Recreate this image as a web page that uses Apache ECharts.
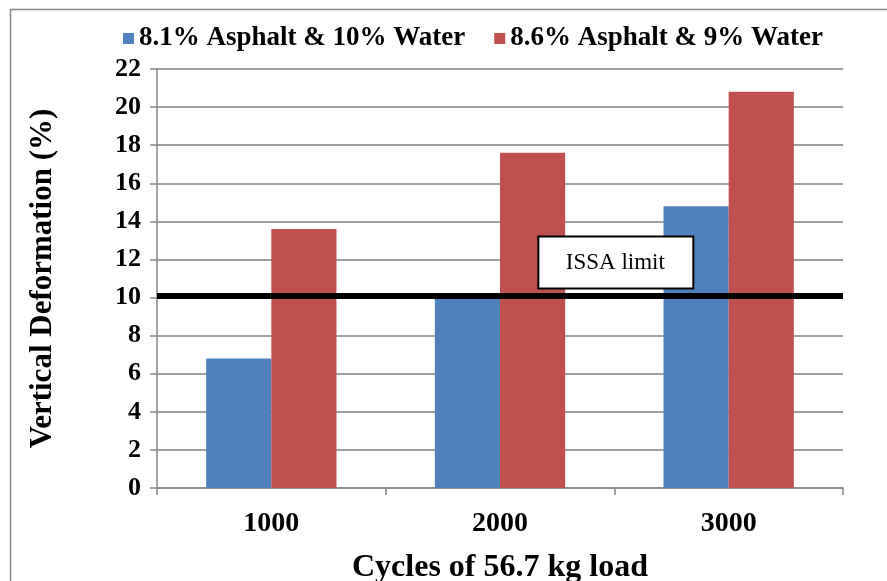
<!DOCTYPE html>
<html>
<head>
<meta charset="utf-8">
<script src="https://cdn.jsdelivr.net/npm/echarts@6/dist/echarts.min.js"></script>
<style>
  html, body { margin: 0; padding: 0; background: #fff; }
  #chart { width: 887px; height: 581px; }
</style>
</head>
<body>
<div id="chart"></div>
<script>
// Load cycles on the x axis
const cycles = ['1000', '2000', '3000'];
// Vertical deformation (%) for each mix
const mixA = [6.8, 10.0, 14.8];   // 8.1% asphalt & 10% water
const mixB = [13.6, 17.6, 20.8];  // 8.6% asphalt & 9% water
const seriesNames = ['8.1% Asphalt & 10% Water', '8.6% Asphalt & 9% Water'];
// Y axis scale
const yMin = 0, yMax = 22, yStep = 2;
// ISSA deformation limit and where its caption sits
const issaLimit = 10.1;
const issaCaption = 'ISSA limit';
const captionLevel = 12;

const serif = '"Liberation Serif", "DejaVu Serif", serif';
const chart = echarts.init(document.getElementById('chart'));

chart.setOption({
  animation: false,
  backgroundColor: '#fff',
  color: ['#4F81BD', '#C0504D'],
  legend: {
    top: 25,
    left: 123,
    padding: 0,
    itemWidth: 11,
    itemHeight: 11,
    itemGap: 29,
    icon: 'rect',
    textStyle: { fontFamily: serif, fontWeight: 'bold', fontSize: 27, color: '#000' },
    data: seriesNames
  },
  grid: { left: 157, right: 44, top: 69, bottom: 93, outerBoundsMode: 'none', containLabel: false },
  xAxis: {
    type: 'category',
    data: cycles,
    name: 'Cycles of 56.7 kg load',
    nameLocation: 'middle',
    nameGap: 64,
    nameTextStyle: { fontFamily: serif, fontWeight: 'bold', fontSize: 32, color: '#000' },
    axisLine: { lineStyle: { color: '#888', width: 1.5 } },
    axisTick: { show: true, length: 7, lineStyle: { color: '#888', width: 1.5 } },
    axisLabel: { fontFamily: serif, fontWeight: 'bold', fontSize: 28, color: '#000', margin: 22 }
  },
  yAxis: {
    type: 'value',
    min: yMin,
    max: yMax,
    interval: yStep,
    name: 'Vertical Deformation (%)',
    nameLocation: 'middle',
    nameGap: 99,
    nameTextStyle: { fontFamily: serif, fontWeight: 'bold', fontSize: 31, color: '#000' },
    axisLine: { show: true, lineStyle: { color: '#888', width: 1.5 } },
    axisTick: { show: true, length: 7, lineStyle: { color: '#888', width: 1.5 } },
    axisLabel: { fontFamily: serif, fontWeight: 'bold', fontSize: 26, color: '#000', margin: 16 },
    splitLine: { lineStyle: { color: '#a0a0a0', width: 2 } }
  },
  series: [
    {
      name: seriesNames[0],
      type: 'bar',
      data: mixA,
      barGap: '0%',
      barCategoryGap: '43%'
    },
    {
      name: seriesNames[1],
      type: 'bar',
      data: mixB,
      barGap: '0%',
      barCategoryGap: '43%',
      markLine: {
        silent: true,
        symbol: 'none',
        label: { show: false },
        lineStyle: { color: '#000', width: 6, type: 'solid' },
        data: [{ yAxis: issaLimit }]
      }
    }
  ]
});

// Caption box for the limit line, centred between the 2000 and 3000 groups
const p2 = chart.convertToPixel({ xAxisIndex: 0 }, cycles[1]);
const p3 = chart.convertToPixel({ xAxisIndex: 0 }, cycles[2]);
const py = chart.convertToPixel({ yAxisIndex: 0 }, captionLevel);
chart.setOption({
  graphic: [
    {
      type: 'rect',
      left: 8, top: 7,
      shape: { x: 0, y: 0, width: 900, height: 600 },
      style: { fill: 'none', stroke: '#888', lineWidth: 1.5 },
      silent: true, z: 0
    },
    {
      type: 'rect',
      x: (p2 + p3) / 2 - 76,
      y: py - 23,
      shape: { x: 0, y: 0, width: 155, height: 52 },
      style: { fill: '#fff', stroke: '#000', lineWidth: 2 },
      z: 100
    },
    {
      type: 'text',
      x: (p2 + p3) / 2 + 1,
      y: py + 3,
      style: {
        text: issaCaption,
        fill: '#000',
        font: '23px ' + serif,
        align: 'center',
        verticalAlign: 'middle'
      },
      z: 101
    }
  ]
});
</script>
</body>
</html>
